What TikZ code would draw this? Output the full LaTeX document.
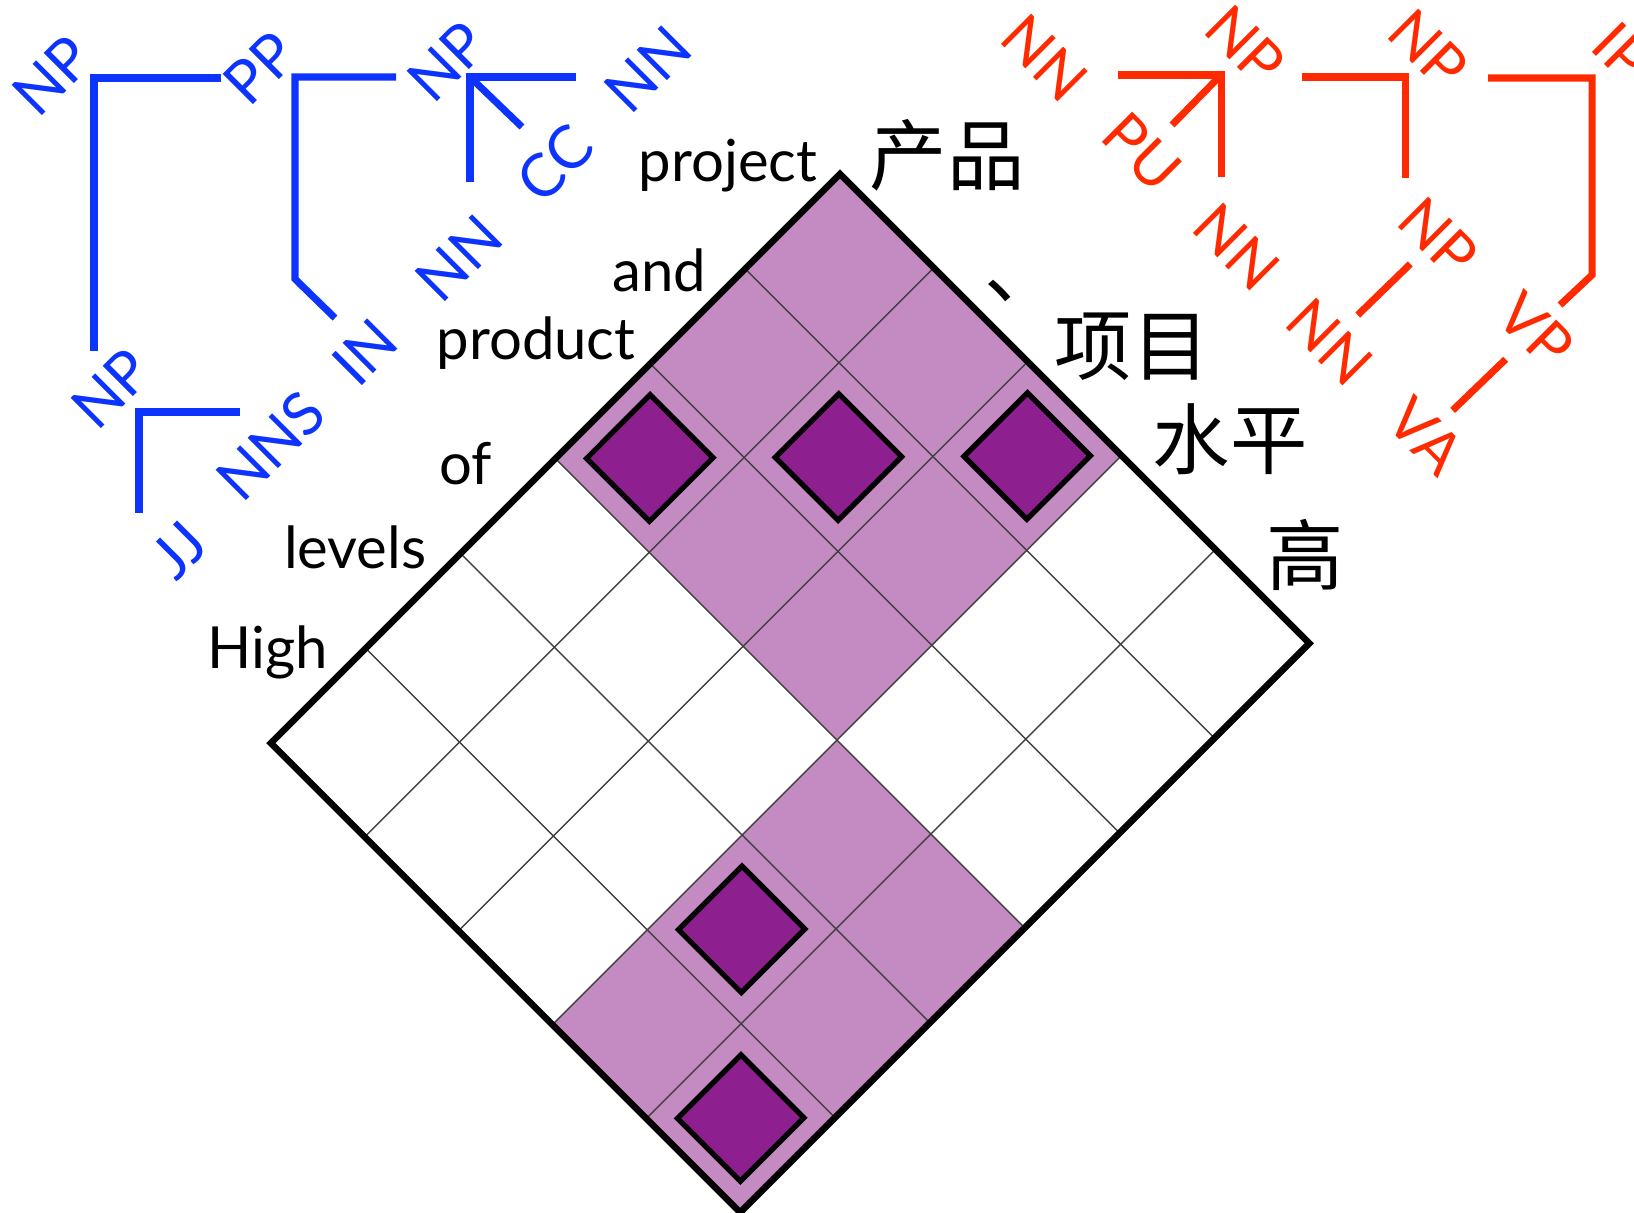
\documentclass[tikz,border=0pt]{standalone}
\usepackage{fontspec}
\setmainfont{Lato}
\newfontfamily\zhfont{Noto Sans CJK SC}
\definecolor{lilac}{RGB}{196,138,194}
\definecolor{plum}{RGB}{142,31,142}
\definecolor{treeblue}{RGB}{13,51,255}
\definecolor{treered}{RGB}{255,42,0}

\begin{document}
\begin{tikzpicture}[x=0.01cm, y=-0.01cm,
    word/.style={anchor=base east, inner sep=0pt, font=\fontsize{16.5}{19}\selectfont},
    zh/.style={inner sep=1pt, font=\fontsize{22}{26}\zhfont},
    blab/.style={text=treeblue, rotate=45, inner sep=0.5pt, font=\fontsize{17}{20}\selectfont},
    rlab/.style={text=treered, rotate=-45, inner sep=0.5pt, font=\fontsize{17}{20}\selectfont},
    bline/.style={draw=treeblue, line width=2pt},
    rline/.style={draw=treered, line width=2pt},
    cell/.style={draw=black!75, line width=0.4pt},
    hit/.style={fill=plum, draw=black, line width=1.5pt}]
    \useasboundingbox (0,0) rectangle (1634,1213);

    % 表
    \begin{scope}[shift={(840,174)}, x={(0.938cm,-0.938cm)}, y={(-0.948cm,-0.948cm)}]
        \fill[lilac] (0,0) -- (3,0) -- (3,3) -- (0,3) -- cycle;
        \fill[lilac] (3,3) -- (5,3) -- (5,6) -- (3,6) -- cycle;
        \foreach \k in {1,...,4} \draw[cell] (\k,0) -- (\k,6);
        \foreach \k in {1,...,5} \draw[cell] (0,\k) -- (5,\k);
        \foreach \a/\b in {2/0, 1/1, 0/2, 3/4, 4/5}
            \draw[hit] (\a+0.165,\b+0.165) -- ++(0.67,0) -- ++(0,0.67) -- ++(-0.67,0) -- cycle;
        \draw[line width=1.9pt] (0,0) -- (5,0) -- (5,6) -- (0,6) -- cycle;
    \end{scope}

    % 英語の単語
    \node[word] (w1) at (818,182) {project};
    \node[word] (w2) at (707,292) {and};
    \node[word] (w3) at (636,360) {product};
    \node[word] (w4) at (493,485) {of};
    \node[word] (w5) at (427,568) {levels};
    \node[word] (w6) at (329,668) {High};

    % 中国語の単語
    \node[zh] (z1) at (947,155) {产品};
    \node[zh] (z2) at (1023,291) {、};
    \node[zh] (z3) at (1132,347) {项目};
    \node[zh] (z4) at (1230,439) {水平};
    \node[zh] (z5) at (1305,555) {高};

    % 英語の木
    \node[blab] (np1) at (52,76) {NP};
    \node[blab] (pp1) at (260,68) {PP};
    \node[blab] (np2) at (447,62) {NP};
    \node[blab] (nn1) at (648,69) {NN};
    \node[blab] (cc1) at (555,163) {CC};
    \node[blab] (nn2) at (459,258) {NN};
    \node[blab] (in1) at (365,352) {IN};
    \node[blab] (np3) at (111,389) {NP};
    \node[blab] (nns1) at (271,446) {NNS};
    \node[blab] (jj1) at (179,550) {JJ};

    \coordinate (b1) at (94,78);
    \coordinate (b1h) at (221,78);
    \coordinate (b1v) at (94,351);
    \coordinate (b2) at (295,77);
    \coordinate (b2h) at (396,77);
    \coordinate (b2k) at (295,279);
    \coordinate (b2e) at (335,318);
    \coordinate (b3) at (470,77);
    \coordinate (b3h) at (576,77);
    \coordinate (b3v) at (470,182);
    \coordinate (b3d) at (522,127);
    \coordinate (b4) at (139,412);
    \coordinate (b4h) at (240,412);
    \coordinate (b4v) at (139,513);

    \draw[bline] (b1h) -- (b1) -- (b1v);
    \draw[bline] (b2h) -- (b2) -- (b2k) -- (b2e);
    \draw[bline] (b3h) -- (b3) -- (b3v);
    \draw[bline] (b3) -- (b3d);
    \draw[bline] (b4h) -- (b4) -- (b4v);

    % 中国語の木
    \node[rlab] (nn3) at (1045,58) {NN};
    \node[rlab] (np4) at (1245,45) {NP};
    \node[rlab] (pu1) at (1142,152) {PU};
    \node[rlab] (nn4) at (1237,247) {NN};
    \node[rlab] (np5) at (1428,49) {NP};
    \node[rlab] (ip1) at (1622,52) {IP};
    \node[rlab] (np6) at (1438,237) {NP};
    \node[rlab] (nn5) at (1330,342) {NN};
    \node[rlab] (vp1) at (1536,330) {VP};
    \node[rlab] (va1) at (1426,436) {VA};

    \coordinate (r1) at (1221,75);
    \coordinate (r1h) at (1118,75);
    \coordinate (r1v) at (1221,177);
    \coordinate (r1d) at (1172,125);
    \coordinate (r2) at (1405,77);
    \coordinate (r2h) at (1302,77);
    \coordinate (r2v) at (1405,178);
    \coordinate (r3) at (1592,78);
    \coordinate (r3h) at (1488,78);
    \coordinate (r3k) at (1592,275);
    \coordinate (r3e) at (1560,305);

    \draw[rline] (r1h) -- (r1) -- (r1v);
    \draw[rline] (r1) -- (r1d);
    \draw[rline] (r2h) -- (r2) -- (r2v);
    \draw[rline] (r3h) -- (r3) -- (r3k) -- (r3e);
    \draw[rline, shorten <=11pt, shorten >=11pt] (np6.center) -- (nn5.center);
    \draw[rline, shorten <=12pt, shorten >=10.5pt] (vp1.center) -- (va1.center);
\end{tikzpicture}
\end{document}
